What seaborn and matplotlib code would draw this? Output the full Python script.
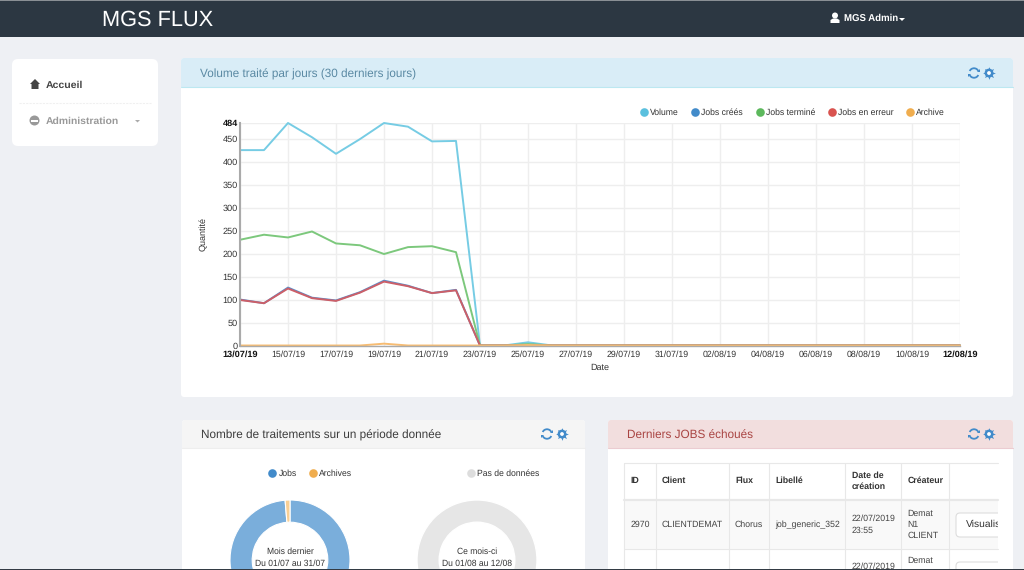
import matplotlib
matplotlib.use("Agg")
import matplotlib.pyplot as plt
from matplotlib.lines import Line2D
from matplotlib.patches import Rectangle, FancyBboxPatch, Circle, Polygon, Arc
import pandas as pd
import seaborn as sns

sns.set_theme(style="white")
plt.rcParams['font.family'] = ['Liberation Sans', 'DejaVu Sans']
plt.rcParams['text.hinting'] = 'no_hinting'
plt.rcParams['text.hinting_factor'] = 8

# ---- data ----
day_index = list(range(31))
volume      = [425,425,484,453,417,449,484,476,444,445,0,0,7,0,0,0,0,0,0,0,0,0,0,0,0,0,0,0,0,0,0]
jobs_crees  = [100,92,126,104,98,116,141,130,114,121,0,0,2,0,0,0,0,0,0,0,0,0,0,0,0,0,0,0,0,0,0]
jobs_termine= [230,241,235,248,222,218,199,214,216,203,0,0,3,0,0,0,0,0,0,0,0,0,0,0,0,0,0,0,0,0,0]
jobs_erreur = [99,92,124,103,97,115,139,129,114,120,0,0,0,0,0,0,0,0,0,0,0,0,0,0,0,0,0,0,0,0,0]
archive     = [0,0,0,0,0,0,4,0,0,0,0,0,1,0,0,0,0,0,0,0,0,0,0,0,0,0,0,0,0,0,0]
series_names = ["Volume", "Jobs créés", "Jobs terminé", "Jobs en erreur", "Archive"]
series_values = [volume, jobs_crees, jobs_termine, jobs_erreur, archive]
x_ticks = [0,2,4,6,8,10,12,14,16,18,20,22,24,26,28,30]
x_labels = ["13/07/19","15/07/19","17/07/19","19/07/19","21/07/19","23/07/19","25/07/19","27/07/19",
            "29/07/19","31/07/19","02/08/19","04/08/19","06/08/19","08/08/19","10/08/19","12/08/19"]
y_ticks = [0,50,100,150,200,250,300,350,400,450,484]
donut_last_labels = ["Jobs", "Archives"]
donut_last_values = [98.7, 1.3]
donut_now_labels = ["Pas de données"]
donut_now_values = [1]
table_headers = ["ID", "Client", "Flux", "Libellé", "Date de\ncréation", "Créateur"]
table_row = ["2970", "CLIENTDEMAT", "Chorus", "job_generic_352", "22/07/2019\n23:55", "Demat\nN1\nCLIENT"]

W, H = 1024, 570
fig = plt.figure(figsize=(W/100, H/100), dpi=100, facecolor="#eef0f4")

def rect_ax(x0, y0, x1, y1):
    return [x0/W, 1-y1/H, (x1-x0)/W, (y1-y0)/H]

ui = fig.add_axes([0, 0, 1, 1], zorder=0)
ui.set_xlim(0, W); ui.set_ylim(H, 0); ui.axis("off")

def box(x0, y0, x1, y1, fc, ec="none", lw=0, z=1):
    ui.add_patch(Rectangle((x0, y0), x1-x0, y1-y0, fc=fc, ec=ec, lw=lw, zorder=z))

def rbox(x0, y0, x1, y1, fc, r=5, ec="none", lw=0, z=1):
    ui.add_patch(FancyBboxPatch((x0+r, y0+r), x1-x0-2*r, y1-y0-2*r,
                 boxstyle=f"round,pad={r},rounding_size={r}", fc=fc, ec=ec, lw=lw, zorder=z))

def txt(x, y, s, px, color="#333333", ha="left", va="center", **kw):
    return ui.text(x, y, s, fontsize=px*0.72, color=color, ha=ha, va=va, zorder=5, **kw)

# top bar
box(0, 0, W, 37, "#2c3742")
box(0, 0, W, 1, "#8a8f94", z=2)
txt(102, 20, "MGS FLUX", 21.8, "white")
txt(844, 18, "MGS Admin", 9.6, "white", fontweight="bold")
ui.add_patch(Circle((835, 15.5), 3, fc="white", ec="none", zorder=5))
ui.add_patch(Polygon([(830.5, 23), (830.5, 20), (833, 18.5), (837, 18.5), (839.5, 20), (839.5, 23)], fc="white", ec="none", zorder=5))
ui.add_patch(Polygon([(899, 18), (905, 18), (902, 21)], fc="white", ec="none", zorder=5))

# sidebar
rbox(12, 59, 158, 146, "white", r=6)
ui.plot([19, 151], [102.5, 102.5], color="#f0f0f0", lw=0.8, ls=(0, (2, 1)), zorder=3)
ui.add_patch(Polygon([(30, 84), (35, 79), (40, 84), (38.5, 84), (38.5, 89), (31.5, 89), (31.5, 84)], fc="#444444", ec="none", zorder=5))
txt(46, 85, "Accueil", 10.5, "#444444", fontweight="bold")
ui.add_patch(Circle((34.5, 120.5), 5, fc="#999999", ec="none", zorder=5))
box(31, 119.5, 38, 121.5, "white", z=6)
txt(46, 121, "Administration", 10.4, "#999999", fontweight="bold")
ui.add_patch(Polygon([(135, 120), (140, 120), (137.5, 122.5)], fc="#aaaaaa", ec="none", zorder=5))

def panel(x0, y0, x1, y1, head_bot, head_fc, edge, title, title_color, dy=1):
    rbox(x0, y0, x1, y1, "white", r=3)
    box(x0, y0+3, x1, head_bot, head_fc, z=2)
    rbox(x0, y0, x1, y0+8, head_fc, r=3, z=2)
    ui.plot([x0, x1], [head_bot, head_bot], color=edge, lw=0.8, zorder=3)
    txt(x0+19, (y0+head_bot)/2+dy, title, 11.7, title_color)

def icons(x, y):
    blue = "#428bca"
    for a0, a1 in [(205, 335), (25, 155)]:
        ui.add_patch(Arc((x, y), 9.5, 9.5, theta1=a0, theta2=a1, ec=blue, lw=1.3, zorder=6))
    ui.add_patch(Polygon([(x+2.6, y-0.8), (x+6, y-0.8), (x+6, y-4.2)], fc=blue, ec="none", zorder=6))
    ui.add_patch(Polygon([(x-2.6, y+0.8), (x-6, y+0.8), (x-6, y+4.2)], fc=blue, ec="none", zorder=6))
    cx = x + 15
    ui.plot([cx], [y], marker=(8, 1, 0), ms=9.2, mfc=blue, mec="none", zorder=6)
    ui.add_patch(Circle((cx, y), 4.4, fc=blue, ec="none", zorder=6))
    ui.add_patch(Circle((cx, y), 1.9, fc="white", ec="none", zorder=7))

panel(181, 58, 1013, 397, 87, "#d9edf7", "#bce8f1", "Volume traité par jours (30 derniers jours)", "#5a89a3", dy=1.5)
icons(974, 73)
panel(182, 420, 585, 575, 448, "#f5f5f5", "#eeeeee", "Nombre de traitements sur un période donnée", "#3c3c3c")
icons(547, 434)
panel(608, 420, 1013, 575, 448, "#f2dede", "#ebccd1", "Derniers JOBS échoués", "#a94442")
icons(974, 434)

# main line chart
palette = dict(zip(series_names, ["#76cce4", "#5a8fcb", "#7cc87c", "#cc5f68", "#f7bc72"]))
legend_colors = ["#5bc0de", "#428bca", "#5cb85c", "#d9534f", "#f0ad4e"]
frame = pd.DataFrame({
    "jour": day_index * len(series_names),
    "serie": [n for n in series_names for _ in day_index],
    "valeur": [v for vals in series_values for v in vals],
})
ax = fig.add_axes(rect_ax(240, 123, 960, 345.5), zorder=2)
ax.patch.set_alpha(0)
sns.lineplot(data=frame, x="jour", y="valeur", hue="serie", hue_order=series_names,
             palette=palette, legend=False, lw=1.4, ax=ax, errorbar=None, sort=False)
for line in ax.lines:
    line.set_clip_on(False)
ax.set_xlim(0, 30); ax.set_ylim(0, 484)
ax.set_xticks(x_ticks); ax.set_xticklabels(x_labels)
ax.set_yticks(y_ticks); ax.set_yticklabels([str(v) for v in y_ticks])
ax.grid(True, color="#eeeeee", lw=1)
ax.set_axisbelow(True)
ax.tick_params(axis="x", length=0, labelsize=6.3, labelcolor="#333333", pad=3.5)
ax.tick_params(axis="y", length=0, labelsize=6.6, labelcolor="#333333", pad=1.5)
for lab in (ax.get_xticklabels()[0], ax.get_xticklabels()[-1]):
    lab.set_fontweight("bold"); lab.set_color("#111111"); lab.set_fontsize(6.6)
lab = ax.get_yticklabels()[-1]
lab.set_fontweight("bold"); lab.set_color("#111111")
for s in ["top", "right"]:
    ax.spines[s].set_visible(False)
ax.spines["left"].set_color("#aaaaaa"); ax.spines["left"].set_linewidth(1.5)
ax.spines["bottom"].set_color("#aaaaaa"); ax.spines["bottom"].set_linewidth(1)
ax.set_xlabel("Date", fontsize=6.5, color="#333333", labelpad=3)
ax.set_ylabel("Quantité", fontsize=6.5, color="#333333", labelpad=11)

def dots(names, colors):
    return [Line2D([], [], ls="none", marker="o", ms=6.2, mfc=c, mec="none", label=n)
            for n, c in zip(names, colors)]

pix = ui.transData
leg_kw = dict(bbox_transform=pix, frameon=False, fontsize=6.2, labelcolor="#333333", handlelength=1.6,
              handletextpad=-0.1, columnspacing=1.14, borderpad=0, borderaxespad=0)
ui_leg = ui.legend(handles=dots(series_names, legend_colors), ncol=5, loc="center right",
                   bbox_to_anchor=(945, 113), **leg_kw)
ui_leg.set_zorder(6)
ui.add_artist(ui_leg)

# donuts
donut_last = fig.add_axes(rect_ax(230, 500, 350, 620), zorder=2)
donut_last.pie(donut_last_values, colors=["#7aaedb", "#f8cf95"], startangle=90, counterclock=False,
               radius=1, wedgeprops=dict(width=0.37, edgecolor="white", linewidth=0.8))
donut_last.set_xlim(-1, 1); donut_last.set_ylim(-1, 1)
donut_now = fig.add_axes(rect_ax(417, 500, 537, 620), zorder=2)
donut_now.pie(donut_now_values, colors=["#e6e6e6"], radius=1, wedgeprops=dict(width=0.37))
donut_now.set_xlim(-1, 1); donut_now.set_ylim(-1, 1)

leg2 = ui.legend(handles=dots(donut_last_labels, ["#428bca", "#f0ad4e"]), ncol=2, loc="center",
                 bbox_to_anchor=(309, 473.5), **leg_kw)
ui.add_artist(leg2)
leg3 = ui.legend(handles=dots(donut_now_labels, ["#dddddd"]), ncol=1, loc="center",
                 bbox_to_anchor=(502, 473.5), **leg_kw)

over = fig.add_axes([0, 0, 1, 1], zorder=4)
over.set_xlim(0, W); over.set_ylim(H, 0); over.axis("off")
for cx, a, b in [(290, "Mois dernier", "Du 01/07 au 31/07"), (477, "Ce mois-ci", "Du 01/08 au 12/08")]:
    over.text(cx, 551.7, a, fontsize=6.15, color="#333333", ha="center", va="center")
    over.text(cx, 564, b, fontsize=6.15, color="#333333", ha="center", va="center")

# table
col_x = [624, 655.5, 728.5, 768.5, 845, 901, 949, 998]
line_c = "#e8e8e8"
box(624, 500, 998, 549, "#f9f9f9", z=2)
for x in col_x[:-1]:
    ui.plot([x, x], [462.5, 570], color=line_c, lw=0.8, zorder=3)
ui.plot([624, 998], [462.5, 462.5], color=line_c, lw=0.8, zorder=3)
ui.plot([624, 998], [499.5, 499.5], color=line_c, lw=1.6, zorder=3)
ui.plot([624, 998], [549, 549], color=line_c, lw=0.8, zorder=3)
for i, h in enumerate(table_headers):
    txt(col_x[i]+6.5, 481, h, 8.8, "#333333", fontweight="bold", linespacing=1.45)
for i, v in enumerate(table_row):
    txt(col_x[i]+6.5, 524.5, v, 8.8, "#444444", linespacing=1.45)
txt(col_x[4]+6.5, 566.5, "22/07/2019", 8.8, "#444444")
txt(col_x[5]+6.5, 561, "Demat", 8.8, "#444444")
clip = Rectangle((624, 450), 374, 120, transform=ui.transData)
btn = FancyBboxPatch((959, 516), 60, 18, boxstyle="round,pad=3,rounding_size=4", fc="white", ec="#dddddd", lw=0.8, zorder=4)
ui.add_patch(btn); btn.set_clip_path(clip)
t = txt(965.5, 524.5, "Visualiser", 10.3, "#333333"); t.set_clip_path(clip); t.set_clip_on(True)
btn2 = FancyBboxPatch((959, 565), 60, 18, boxstyle="round,pad=3,rounding_size=4", fc="white", ec="#dddddd", lw=0.8, zorder=4)
ui.add_patch(btn2); btn2.set_clip_path(clip)

# bottom window edge
over.add_patch(Rectangle((0, 568.7), W, 1.3, fc="#333b44", ec="none"))

fig.savefig("out.png", dpi=100, facecolor=fig.get_facecolor())
